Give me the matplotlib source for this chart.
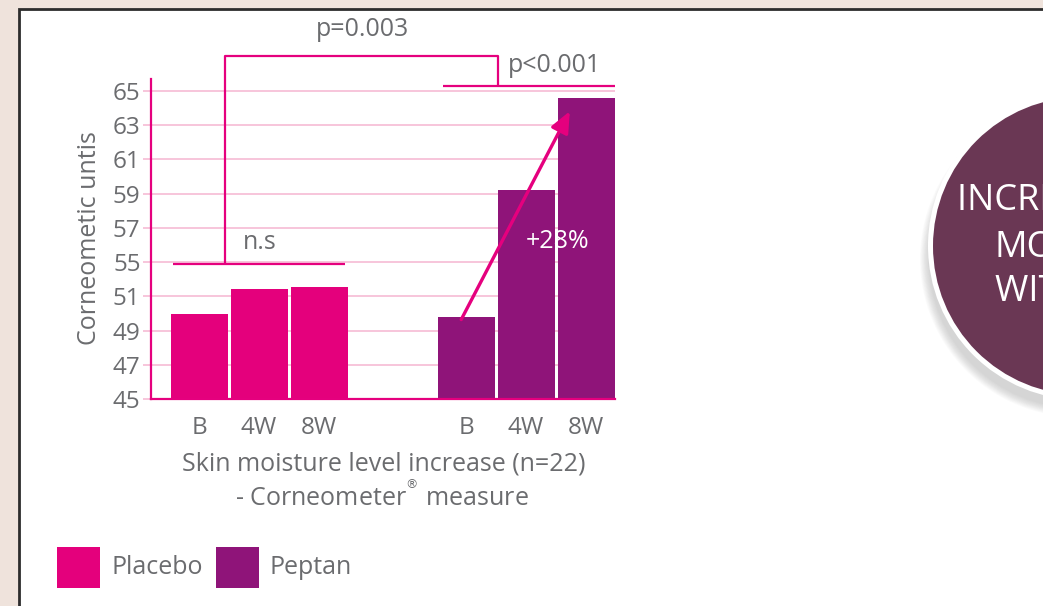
import numpy as np
import matplotlib
matplotlib.use("Agg")
import matplotlib.pyplot as plt
from matplotlib.patches import Rectangle, Circle

# ---- data -------------------------------------------------------------
timepoints = ["B", "4W", "8W"]
series_names = ["Placebo", "Peptan"]
placebo = [50.0, 51.9, 52.1]
peptan = [49.8, 59.2, 64.6]
ytick_values = [45, 47, 49, 51, 55, 57, 59, 61, 63, 65]
p_overall = "p=0.003"
p_peptan = "p<0.001"
p_placebo = "n.s"
gain_label = "+28%"
ylabel = "Corneometic untis"
xlabel_1 = "Skin moisture level increase (n=22)"
xlabel_2 = r"- Corneometer$^{^{\circledR}}$ measure"
badge_lines = ["INCREASED SKIN", "MOISTURE", "WITH PEPTAN"]

# ---- style ------------------------------------------------------------
W, H = 1043, 606
MAGENTA = "#e4007c"
PURPLE = "#8f1479"
LINE = "#e5007e"
GRID = "#f7c5da"
GREY = "#6b6c6f"
PLUM = "#6a3754"
BEIGE = "#efe3dc"
FONT = "Open Sans"
FS = 18

plt.rcParams["font.family"] = [FONT, "DejaVu Sans"]

fig = plt.figure(figsize=(W / 100, H / 100), dpi=100, facecolor=BEIGE)


def fx(px):
    return px / W


def fy(py):
    return 1 - py / H


# background panel and badge, drawn in pixel space
bg = fig.add_axes([0, 0, 1, 1], zorder=0)
bg.set_xlim(0, W)
bg.set_ylim(H, 0)
bg.axis("off")
bg.add_patch(Rectangle((18.5, 9), W + 20, H + 20, facecolor="white",
                       edgecolor="#2c2c2c", linewidth=2.0))

cx, cy, r = 1082, 246, 149
for i in range(12):
    bg.add_patch(Circle((cx - 4, cy + 13), r + 9 - i * 0.8,
                        facecolor="#8a8a8a", edgecolor="none", alpha=0.03))
bg.add_patch(Circle((cx, cy), r + 5, facecolor="white", edgecolor="none"))
bg.add_patch(Circle((cx, cy), r, facecolor=PLUM, edgecolor="none"))
for (tx, ty), line in zip([(957, 201), (995, 248), (995, 292)], badge_lines):
    bg.text(tx, ty, line, color="white", fontsize=26, ha="left",
            va="center", family=FONT)

# ---- main bar chart ---------------------------------------------------
ax = fig.add_axes([fx(151), fy(399.3), 464 / W, 320.3 / H], zorder=2)
ax.set_facecolor("none")

# tick labels are evenly spaced, so map values onto them piecewise
knot_v = np.concatenate([[ytick_values[0] - 40], ytick_values,
                         [ytick_values[-1] + 40]]).astype(float)
knot_p = np.concatenate([[-20], np.arange(len(ytick_values)),
                         [len(ytick_values) - 1 + 20]]).astype(float)


def forward(v):
    return np.interp(v, knot_v, knot_p)


def inverse(p):
    return np.interp(p, knot_p, knot_v)


ax.set_yscale("function", functions=(forward, inverse))
ymin, ymax = 45, 65.68
ax.set_ylim(ymin, ymax)

x_placebo = np.arange(len(timepoints), dtype=float)
x_peptan = x_placebo + 4.45
ax.set_xlim(-0.8, 6.933)

bw = 0.95
ax.bar(x_placebo, np.array(placebo) - ymin, bottom=ymin, width=bw,
       color=MAGENTA, zorder=2)
ax.bar(x_peptan, np.array(peptan) - ymin, bottom=ymin, width=bw,
       color=PURPLE, zorder=2)

ax.set_yticks(ytick_values)
ax.set_yticklabels([str(v) for v in ytick_values])
ax.set_xticks(np.concatenate([x_placebo, x_peptan]))
ax.set_xticklabels(timepoints * 2)
ax.yaxis.grid(True, color=GRID, linewidth=1.4)
ax.set_axisbelow(True)
ax.tick_params(axis="y", length=6, width=1.4, color=GRID, pad=1.5,
               labelsize=17.5, labelcolor=GREY)
ax.tick_params(axis="x", length=0, pad=12, labelsize=17.5,
               labelcolor=GREY)
for side in ("top", "right"):
    ax.spines[side].set_visible(False)
for side in ("left", "bottom"):
    ax.spines[side].set_color(LINE)
    ax.spines[side].set_linewidth(1.6)
    ax.spines[side].set_zorder(3)

# significance brackets
kw = dict(color=LINE, linewidth=1.6, clip_on=False, zorder=3,
          solid_capstyle="butt")
y_pl, y_top, y_pe = 54.76, 67.0, 65.28
x_left_stem = x_placebo[0] + 0.433
x_right_stem = x_peptan[0] + 0.528
ax.plot([x_placebo[0] - 0.433, x_placebo[2] + 0.433], [y_pl, y_pl], **kw)
ax.plot([x_left_stem, x_left_stem, x_right_stem, x_right_stem],
        [y_pl, y_top, y_top, y_pe], **kw)
ax.plot([x_peptan[0] - 0.383, x_peptan[2] + bw / 2], [y_pe, y_pe], **kw)

ax.text(2.72, 68.55, p_overall, fontsize=FS, color=GREY, ha="center",
        va="center", clip_on=False)
ax.text(5.93, 66.45, p_peptan, fontsize=FS, color=GREY, ha="center",
        va="center", clip_on=False)
ax.text(1.02, 56.14, p_placebo, fontsize=FS, color=GREY, ha="center",
        va="center")

# growth arrow over the Peptan bars
ax.annotate("", xy=(x_peptan[2] - 0.27, peptan[2] - 0.8),
            xytext=(x_peptan[0] - 0.08, peptan[0] - 0.15),
            arrowprops=dict(arrowstyle="-|>,head_length=0.8,head_width=0.35",
                            mutation_scale=16, color=LINE, lw=2.4,
                            shrinkA=0, shrinkB=0), zorder=4)
ax.text(5.97, 56.18, gain_label, fontsize=FS, color="white", ha="center",
        va="center", zorder=5)

# axis titles
fig.text(fx(90), fy(238), ylabel, rotation=90, fontsize=FS, color=GREY,
         ha="center", va="center")
fig.text(fx(384), fy(464), xlabel_1, fontsize=FS, color=GREY, ha="center",
         va="center")
fig.text(fx(382), fy(497), xlabel_2, fontsize=FS, color=GREY, ha="center",
         va="center")

# legend
for (x0, tx), name, col in zip([(57, 112), (216, 270)], series_names,
                               [MAGENTA, PURPLE]):
    fig.patches.append(Rectangle((fx(x0), fy(588)), 43 / W, 41 / H,
                                 transform=fig.transFigure, facecolor=col,
                                 edgecolor="none", zorder=3))
    fig.text(fx(tx), fy(568), name, fontsize=FS, color=GREY, ha="left",
             va="center")

fig.savefig("out.png", dpi=100, facecolor=BEIGE)
